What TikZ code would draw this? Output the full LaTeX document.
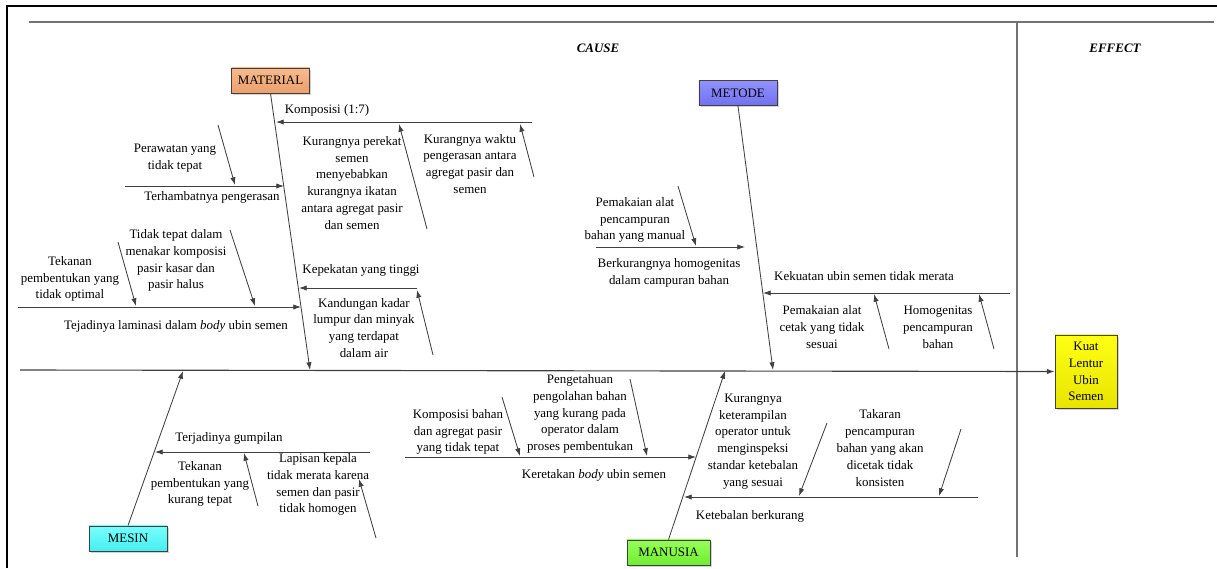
\documentclass[tikz,border=0pt]{standalone}
\usepackage{fontspec}
\setmainfont{Liberation Serif}
\usetikzlibrary{arrows.meta,shadows}

\definecolor{matT}{RGB}{248,186,140}
\definecolor{matB}{RGB}{236,160,108}
\definecolor{metT}{RGB}{146,146,255}
\definecolor{metB}{RGB}{112,112,240}
\definecolor{mesT}{RGB}{120,255,255}
\definecolor{mesB}{RGB}{70,238,238}
\definecolor{manT}{RGB}{150,255,90}
\definecolor{manB}{RGB}{112,236,50}
\definecolor{effT}{RGB}{255,255,20}
\definecolor{effB}{RGB}{232,228,0}

\begin{document}
\begin{tikzpicture}[x=0.025cm,y=-0.025cm,>={Latex[length=5.5pt,width=3.8pt]},
		line width=0.6pt,font=\fontsize{9.2}{12}\selectfont,
		bone/.style={->,black!75},
		txt/.style={align=center,inner sep=0pt},
		catbox/.style={draw=black!75,line width=0.5pt,minimum width=1.95cm,
			minimum height=0.63cm,inner sep=0pt,
			drop shadow={shadow xshift=1.2pt,shadow yshift=-1.2pt,opacity=0.35}}]
		\useasboundingbox (0,0) rectangle (1217,568);

		% frame, header line and cause/effect divider
		\draw[line width=1.8pt] (7,568) -- (7,6) -- (1217,6);
		\draw[black!55,line width=0.8pt] (29,22) -- (1214,22);
		\draw[black!55,line width=0.8pt] (1017,22) -- (1017,557);
		\node[txt,font=\fontsize{9.2}{12}\selectfont\bfseries\itshape] (cause) at (598,48) {CAUSE};
		\node[txt,font=\fontsize{9.2}{12}\selectfont\bfseries\itshape] (effect) at (1115,48) {EFFECT};

		% main categories
		\node[catbox,top color=matT,bottom color=matB] (mat) at (270.5,80.5) {MATERIAL};
		\node[catbox,top color=metT,bottom color=metB] (met) at (738,93) {METODE};
		\node[catbox,top color=mesT,bottom color=mesB] (mes) at (128,538.5) {MESIN};
		\node[catbox,top color=manT,bottom color=manB,minimum width=2.08cm] (man) at (668.5,552.5) {MANUSIA};
		\node[catbox,top color=effT,bottom color=effB,minimum width=1.55cm,
			minimum height=1.83cm,align=center] (eff) at (1086,371.5) {Kuat\\Lentur\\Ubin\\Semen};

		\coordinate (spine) at (20,370);
		\coordinate (matTip) at (310,370);
		\coordinate (metTip) at (773,370);
		\coordinate (mesTip) at (183,371);
		\coordinate (manTip) at (725,371);

		% material
		\coordinate (komA) at (532,122); \coordinate (komB) at (276,122);
		\coordinate (rekA) at (427,229); \coordinate (rekB) at (399,124);
		\coordinate (wakA) at (534,177); \coordinate (wakB) at (520,124);
		\coordinate (harA) at (125,186); \coordinate (harB) at (284,186);
		\coordinate (rawA) at (218,125); \coordinate (rawB) at (235,185);
		\coordinate (pekA) at (417,288); \coordinate (pekB) at (299,288);
		\coordinate (kanA) at (433,355); \coordinate (kanB) at (417,290);
		\coordinate (lamA) at (18,307); \coordinate (lamB) at (301,307);
		\coordinate (tekA) at (118,242); \coordinate (tekB) at (136,306);
		\coordinate (nakA) at (230,230); \coordinate (nakB) at (255,306);
		% metode
		\coordinate (homA) at (596,247); \coordinate (homB) at (745,247);
		\coordinate (pmkA) at (678,186); \coordinate (pmkB) at (696,246);
		\coordinate (kuaA) at (1010,293); \coordinate (kuaB) at (763,293);
		\coordinate (cetA) at (889,349); \coordinate (cetB) at (874,294);
		\coordinate (hgnA) at (994,349); \coordinate (hgnB) at (979,294);
		% mesin
		\coordinate (gumA) at (370,452); \coordinate (gumB) at (155,452);
		\coordinate (tkrA) at (258,506); \coordinate (tkrB) at (244,453);
		\coordinate (lapA) at (376,538); \coordinate (lapB) at (359,479);
		% manusia
		\coordinate (retA) at (405,457); \coordinate (retB) at (696,457);
		\coordinate (kbhA) at (502,397); \coordinate (kbhB) at (520,456);
		\coordinate (getA) at (630,379); \coordinate (getB) at (647,456);
		\coordinate (tblA) at (978,497); \coordinate (tblB) at (684,497);
		\coordinate (trmA) at (827,423); \coordinate (trmB) at (799,496);
		\coordinate (tkaA) at (961,429); \coordinate (tkaB) at (939,496);

		\draw[bone,line width=0.8pt] (spine) -- (eff.west);
		\path[bone]
		(mat.south) edge (matTip)
		(met.south) edge (metTip)
		(mes.north) edge (mesTip)
		(man.north) edge (manTip)
		(komA) edge (komB) (rekA) edge (rekB) (wakA) edge (wakB)
		(harA) edge (harB) (rawA) edge (rawB)
		(pekA) edge (pekB) (kanA) edge (kanB)
		(lamA) edge (lamB) (tekA) edge (tekB) (nakA) edge (nakB)
		(homA) edge (homB) (pmkA) edge (pmkB)
		(kuaA) edge (kuaB) (cetA) edge (cetB) (hgnA) edge (hgnB)
		(gumA) edge (gumB) (tkrA) edge (tkrB) (lapA) edge (lapB)
		(retA) edge (retB) (kbhA) edge (kbhB) (getA) edge (getB)
		(tblA) edge (tblB) (trmA) edge (trmB) (tkaA) edge (tkaB);

		% labels
		\node[txt] (komT) at (327,110) {Komposisi (1:7)};
		\node[txt] (rekT) at (352,183) {Kurangnya perekat\\semen\\menyebabkan\\kurangnya ikatan\\antara agregat pasir\\dan semen};
		\node[txt] (wakT) at (470,164) {Kurangnya waktu\\pengerasan antara\\agregat pasir dan\\semen};
		\node[txt] (rawT) at (175,158) {Perawatan yang\\tidak tepat};
		\node[txt] (harT) at (212,197) {Terhambatnya pengerasan};
		\node[txt] (pekT) at (361,270) {Kepekatan yang tinggi};
		\node[txt] (kanT) at (364,328) {Kandungan kadar\\lumpur dan minyak\\yang terdapat\\dalam air};
		\node[txt] (tekT) at (70,279) {Tekanan\\pembentukan yang\\tidak optimal};
		\node[txt] (nakT) at (176,260.5) {Tidak tepat dalam\\menakar komposisi\\pasir kasar dan\\pasir halus};
		\node[txt] (lamT) at (176,326) {Tejadinya laminasi dalam \textit{body} ubin semen};

		\node[txt] (pmkT) at (635,220) {Pemakaian alat\\pencampuran\\bahan yang manual};
		\node[txt] (homT) at (669,272.5) {Berkurangnya homogenitas\\dalam campuran bahan};
		\node[txt] (kuaT) at (864,276) {Kekuatan ubin semen tidak merata};
		\node[txt] (cetT) at (822,327) {Pemakaian alat\\cetak yang tidak\\sesuai};
		\node[txt] (hgnT) at (938,327) {Homogenitas\\pencampuran\\bahan};

		\node[txt] (gumT) at (229,438) {Terjadinya gumpilan};
		\node[txt] (tkrT) at (200,484) {Tekanan\\pembentukan yang\\kurang tepat};
		\node[txt] (lapT) at (318,484.5) {Lapisan kepala\\tidak merata karena\\semen dan pasir\\tidak homogen};

		\node[txt] (kbhT) at (458,432) {Komposisi bahan\\dan agregat pasir\\yang tidak tepat};
		\node[txt] (getT) at (580,414) {Pengetahuan\\pengolahan bahan\\yang kurang pada\\operator dalam\\proses pembentukan};
		\node[txt] (retT) at (594,475) {Keretakan \textit{body} ubin semen};
		\node[txt] (trmT) at (753,441.5) {Kurangnya\\keterampilan\\operator untuk\\menginspeksi\\standar ketebalan\\yang sesuai};
		\node[txt] (tkaT) at (880,448) {Takaran\\pencampuran\\bahan yang akan\\dicetak tidak\\konsisten};
		\node[txt] (tblT) at (750,516) {Ketebalan berkurang};
\end{tikzpicture}
\end{document}
